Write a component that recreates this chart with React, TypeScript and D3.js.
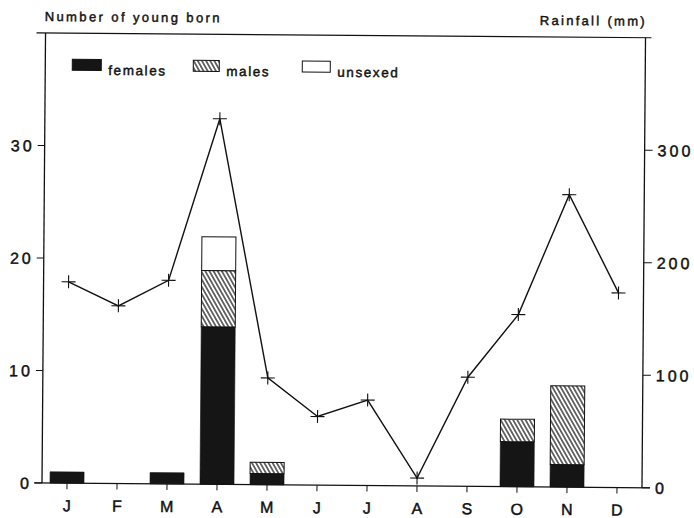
import React from 'react';
import * as d3 from 'd3';

const months = ['J', 'F', 'M', 'A', 'M', 'J', 'J', 'A', 'S', 'O', 'N', 'D'];
const females = [1, 0, 1, 14, 1, 0, 0, 0, 0, 4, 2, 0];
const males = [0, 0, 0, 5, 1, 0, 0, 0, 0, 2, 7, 0];
const unsexed = [0, 0, 0, 3, 0, 0, 0, 0, 0, 0, 0, 0];
const rainfall = [179, 158, 181, 325, 95, 61, 76, 7, 97, 153, 260, 173];
const leftTicks = [0, 10, 20, 30];
const rightTicks = [0, 100, 200, 300];
const seriesKeys = ['females', 'males', 'unsexed'];
const legendLabels = ['females', 'males', 'unsexed'];

const FONT = "'Liberation Sans', Arial, Helvetica, sans-serif";

export default function App() {
  const W = 694;
  const H = 518;
  const left = 42;
  const right = 642;
  const bottom = 483;
  const top = 33;

  const x = d3.scaleBand<number>().domain(d3.range(months.length)).range([left, right]).padding(0);
  const yL = d3.scaleLinear().domain([0, 40]).range([bottom, top]);
  const yR = d3.scaleLinear().domain([0, 400]).range([bottom, top]);

  const rows = months.map((m, i) => ({ i, females: females[i], males: males[i], unsexed: unsexed[i] }));
  const stacked = d3.stack<any>().keys(seriesKeys)(rows);
  const fills = ['#151515', 'url(#hatch)', '#ffffff'];

  const bw = x.bandwidth() * 0.68;
  const cx = (i: number) => (x(i) as number) + x.bandwidth() / 2;

  const line = d3
    .line<number>()
    .x((_, i) => cx(i))
    .y((d) => yR(d));

  const legendX = [69, 190, 299];
  const legendW = [29, 26, 28];
  const ts = { stroke: '#111', strokeWidth: 0.45 } as const;

  return (
    <div style={{ position: 'absolute', left: 0, top: 0 }}>
      <svg width={W} height={H} style={{ display: 'block', background: '#fff' }}>
        <defs>
          <pattern id="hatch" patternUnits="userSpaceOnUse" width={3.6} height={3.6} patternTransform="rotate(-30)">
            <rect width={3.6} height={3.6} fill="#fff" />
            <line x1={1.8} y1={0} x2={1.8} y2={3.6} stroke="#111" strokeWidth={1.2} />
          </pattern>
        </defs>
        <g transform={`rotate(0.45, ${left}, ${bottom})`} fontFamily={FONT} fill="#111">
          {/* titles */}
          <text x={41} y={21} fontSize={13} letterSpacing={2.4} {...ts}>Number of young born</text>
          <text x={641 + 2.3} y={21} fontSize={13} letterSpacing={2.3} textAnchor="end" {...ts}>Rainfall (mm)</text>

          {/* frame */}
          <line x1={33} y1={top} x2={648} y2={top} stroke="#111" strokeWidth={1.2} />
          <line x1={left} y1={top} x2={left} y2={bottom} stroke="#111" strokeWidth={1.3} />
          <line x1={right} y1={top} x2={right} y2={bottom} stroke="#111" strokeWidth={1.3} />
          <line x1={34} y1={bottom} x2={650} y2={bottom} stroke="#111" strokeWidth={1.2} />

          {/* left ticks */}
          {leftTicks.map((t) => (
            <g key={'l' + t}>
              <line x1={left - 7} x2={left} y1={yL(t)} y2={yL(t)} stroke="#111" strokeWidth={1} />
              <text x={29 + 3} y={yL(t) + 6} fontSize={16} letterSpacing={3} textAnchor="end" {...ts}>{t}</text>
            </g>
          ))}
          {/* right ticks */}
          {rightTicks.map((t) => (
            <g key={'r' + t}>
              <line x1={right} x2={right + 8} y1={yR(t)} y2={yR(t)} stroke="#111" strokeWidth={1} />
              <text x={655} y={yR(t) + 6} fontSize={16} letterSpacing={3} {...ts}>{t}</text>
            </g>
          ))}
          {/* month ticks & labels */}
          {months.map((m, i) => (
            <g key={'m' + i}>
              <line x1={cx(i)} x2={cx(i)} y1={bottom} y2={bottom + 6} stroke="#111" strokeWidth={1} />
              <text x={cx(i)} y={511} fontSize={16} textAnchor="middle" {...ts}>{m}</text>
            </g>
          ))}

          {/* bars */}
          {stacked.map((s, si) => (
            <g key={s.key}>
              {s.map((d, i) => {
                const h = yL(d[0]) - yL(d[1]);
                if (h <= 0) return null;
                return (
                  <rect
                    key={i}
                    x={cx(i) - bw / 2}
                    y={yL(d[1])}
                    width={bw}
                    height={h}
                    fill={fills[si]}
                    stroke="#111"
                    strokeWidth={si === 0 ? 0.6 : 1}
                  />
                );
              })}
            </g>
          ))}

          {/* rainfall line */}
          <path d={line(rainfall) || ''} fill="none" stroke="#111" strokeWidth={1.4} />
          {rainfall.map((v, i) => (
            <g key={'p' + i} stroke="#111" strokeWidth={1.1}>
              <line x1={cx(i) - 7} x2={cx(i) + 7} y1={yR(v)} y2={yR(v)} />
              <line x1={cx(i)} x2={cx(i)} y1={yR(v) - 6.5} y2={yR(v) + 6.5} />
            </g>
          ))}

          {/* legend */}
          {legendLabels.map((lab, i) => (
            <g key={lab}>
              <rect x={legendX[i]} y={59} width={legendW[i]} height={11} fill={fills[i]} stroke="#111" strokeWidth={1} />
              <text x={legendX[i] + legendW[i] + 7} y={74.5} fontSize={13.5} letterSpacing={1.6} {...ts}>{lab}</text>
            </g>
          ))}
        </g>
      </svg>
    </div>
  );
}
